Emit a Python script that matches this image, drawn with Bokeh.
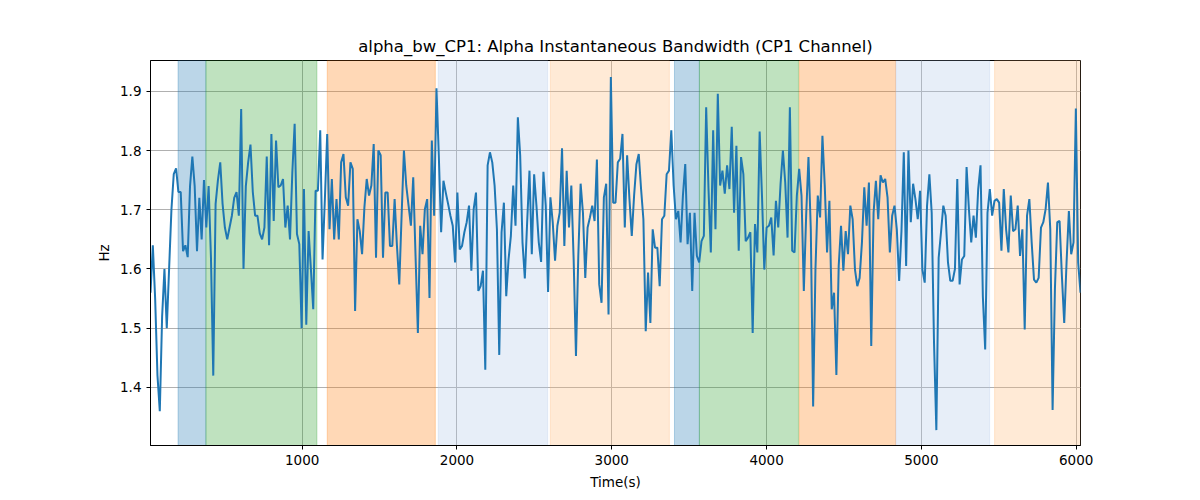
from bokeh.plotting import figure
from bokeh.models import BoxAnnotation, FixedTicker, Range1d
from bokeh.embed import file_html
from bokeh.resources import INLINE
import numpy as np

TITLE = "alpha_bw_CP1: Alpha Instantaneous Bandwidth (CP1 Channel)"
X_LABEL = "Time(s)"
Y_LABEL = "Hz"

T_START = 20.0
T_STEP = 15.02

values = [
    1.56, 1.64, 1.55, 1.42, 1.36, 1.52, 1.60, 1.50, 1.60, 1.70, 1.76,
    1.77, 1.73, 1.73, 1.63, 1.64, 1.62, 1.74, 1.79, 1.74, 1.63,
    1.72, 1.65, 1.75, 1.67, 1.74, 1.62, 1.42, 1.71, 1.75, 1.78,
    1.71, 1.67, 1.65, 1.67, 1.69, 1.72, 1.73, 1.69, 1.87, 1.60,
    1.74, 1.78, 1.81, 1.73, 1.69, 1.69, 1.66, 1.65, 1.67, 1.79,
    1.64, 1.828, 1.681, 1.817, 1.738, 1.741, 1.752, 1.670, 1.707, 1.650,
    1.763, 1.845, 1.659, 1.642, 1.500, 1.735, 1.506, 1.664, 1.599, 1.532,
    1.732, 1.732, 1.834, 1.616, 1.718, 1.828, 1.667, 1.752, 1.650, 1.718,
    1.650, 1.780, 1.794, 1.721, 1.707, 1.780, 1.769, 1.529, 1.684, 1.664,
    1.625, 1.704, 1.752, 1.724, 1.741, 1.811, 1.619, 1.800, 1.792, 1.619,
    1.729, 1.729, 1.639, 1.639, 1.718, 1.639, 1.574, 1.690, 1.800, 1.741,
    1.707, 1.673, 1.755, 1.622, 1.492, 1.673, 1.625, 1.701, 1.718, 1.551,
    1.817, 1.690, 1.905, 1.792, 1.662, 1.749, 1.729, 1.710, 1.690, 1.673,
    1.611, 1.729, 1.633, 1.639, 1.662, 1.679, 1.707, 1.597, 1.701, 1.729,
    1.563, 1.571, 1.597, 1.430, 1.775, 1.797, 1.780, 1.741, 1.667, 1.455,
    1.662, 1.712, 1.554, 1.616, 1.656, 1.741, 1.673, 1.856, 1.792, 1.645,
    1.584, 1.679, 1.766, 1.625, 1.760, 1.707, 1.645, 1.612, 1.764, 1.707,
    1.561, 1.721, 1.679, 1.614, 1.673, 1.695, 1.804, 1.639, 1.766, 1.670,
    1.741, 1.616, 1.453, 1.622, 1.744, 1.695, 1.585, 1.670, 1.687, 1.707,
    1.681, 1.785, 1.574, 1.543, 1.721, 1.744, 1.523, 1.924, 1.712, 1.712,
    1.780, 1.786, 1.828, 1.670, 1.792, 1.718, 1.656, 1.724, 1.777, 1.794,
    1.735, 1.684, 1.495, 1.594, 1.509, 1.667, 1.636, 1.636, 1.571, 1.684,
    1.690, 1.760, 1.766, 1.834, 1.741, 1.684, 1.698, 1.645, 1.724, 1.777,
    1.642, 1.695, 1.563, 1.695, 1.622, 1.611, 1.647, 1.656, 1.873, 1.735,
    1.628, 1.834, 1.667, 1.896, 1.741, 1.766, 1.727, 1.775, 1.735, 1.840,
    1.695, 1.808, 1.631, 1.789, 1.760, 1.647, 1.653, 1.662, 1.492, 1.676,
    1.628, 1.832, 1.724, 1.599, 1.670, 1.673, 1.687, 1.623, 1.715, 1.670,
    1.744, 1.800, 1.746, 1.653, 1.873, 1.631, 1.628, 1.724, 1.769, 1.724,
    1.563, 1.690, 1.789, 1.667, 1.368, 1.599, 1.724, 1.687, 1.825, 1.741,
    1.628, 1.715, 1.532, 1.560, 1.421, 1.605, 1.673, 1.597, 1.664, 1.625,
    1.707, 1.684, 1.599, 1.571, 1.585, 1.645, 1.738, 1.673, 1.746, 1.470,
    1.695, 1.749, 1.684, 1.758, 1.746, 1.752, 1.721, 1.628, 1.690, 1.707,
    1.667, 1.580, 1.664, 1.797, 1.605, 1.800, 1.679, 1.744, 1.718, 1.684,
    1.732, 1.599, 1.577, 1.707, 1.760, 1.695, 1.475, 1.328, 1.619, 1.662,
    1.707, 1.690, 1.611, 1.580, 1.580, 1.600, 1.752, 1.574, 1.616, 1.622,
    1.772, 1.701, 1.645, 1.690, 1.653, 1.735, 1.775, 1.554, 1.464, 1.695,
    1.735, 1.690, 1.715, 1.718, 1.712, 1.631, 1.735, 1.667, 1.628, 1.724,
    1.664, 1.667, 1.707, 1.622, 1.667, 1.498, 1.690, 1.718, 1.645, 1.582,
    1.577, 1.585, 1.670, 1.679, 1.701, 1.746, 1.667, 1.362, 1.566, 1.679,
    1.681, 1.588, 1.509, 1.611, 1.698, 1.625, 1.645, 1.871, 1.611, 1.560,
]

span_starts = [198, 378, 1162, 1879, 2603, 3405, 3566, 4211, 4835, 5473]
span_ends = [378, 1095, 1860, 2586, 3372, 3566, 4206, 4833, 5441, 6040]
span_colors = ["#1f77b4", "#2ca02c", "#ff7f0e", "#aec7e8", "#ffbb78",
               "#1f77b4", "#2ca02c", "#ff7f0e", "#aec7e8", "#ffbb78"]

x_ticks = [1000, 2000, 3000, 4000, 5000, 6000]
y_ticks = [1.4, 1.5, 1.6, 1.7, 1.8, 1.9]
Y_MIN, Y_MAX = 1.302, 1.952

times = T_START + T_STEP * np.arange(len(values))

FONT = "DejaVu Sans"

p = figure(frame_width=930, frame_height=385, output_backend="svg",
           toolbar_location=None,
           x_range=Range1d(times[0], times[-1]), y_range=Range1d(Y_MIN, Y_MAX),
           min_border_left=150, min_border_right=110, min_border_top=60,
           min_border_bottom=45, background_fill_color="white",
           border_fill_color="white")

p.title.text = TITLE
p.title.align = "center"
p.title.text_font = FONT
p.title.text_font_size = "16.5px"
p.title.text_font_style = "normal"
p.title.text_color = "black"

for s, e, c in zip(span_starts, span_ends, span_colors):
    p.add_layout(BoxAnnotation(left=s, right=e, fill_color=c, fill_alpha=0.3,
                               line_color=c, line_alpha=0.3, line_width=1,
                               level="underlay"))

p.line(times, values, line_color="#1f77b4", line_width=2)

p.xaxis.ticker = FixedTicker(ticks=x_ticks)
p.yaxis.ticker = FixedTicker(ticks=y_ticks)
p.xaxis.axis_label = X_LABEL
p.yaxis.axis_label = Y_LABEL
for ax in (p.xaxis[0], p.yaxis[0]):
    ax.axis_label_text_font = FONT
    ax.axis_label_text_font_size = "13.5px"
    ax.axis_label_text_font_style = "normal"
    ax.axis_label_text_color = "black"
    ax.major_label_text_font = FONT
    ax.major_label_text_font_size = "13.5px"
    ax.major_label_text_color = "black"
    ax.axis_line_color = "black"
    ax.major_tick_line_color = "black"
    ax.major_tick_out = 4
    ax.major_tick_in = 0
    ax.minor_tick_line_color = None
p.xaxis.axis_label_standoff = 6
p.yaxis.axis_label_standoff = 5

p.xgrid.ticker = FixedTicker(ticks=x_ticks)
p.ygrid.ticker = FixedTicker(ticks=y_ticks)
p.grid.grid_line_color = "#b0b0b0"
p.grid.grid_line_width = 1

p.outline_line_color = "black"
p.outline_line_width = 1
p.outline_line_alpha = 1

open("out.html", "w").write(file_html(p, INLINE))
